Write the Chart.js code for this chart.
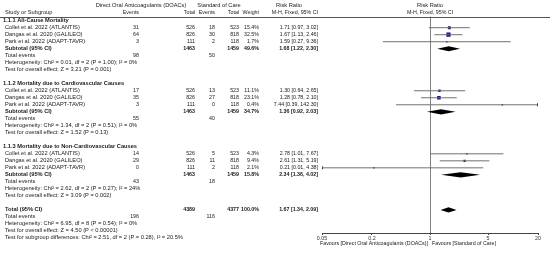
<!DOCTYPE html>
<html>
<head>
<meta charset="utf-8">
<script src="https://cdn.jsdelivr.net/npm/chart.js@4.4.1/dist/chart.umd.min.js"></script>
<style>
  html, body { margin: 0; padding: 0; background: #fff; }
  #wrap { width: 550px; height: 255px; }
</style>
</head>
<body>
<div id="wrap"><canvas id="forest" width="550" height="255"></canvas></div>
<script>
// ── Data ────────────────────────────────────────────────────────────────────
const sectionTitles = [
  '1.1.1 All-Cause Mortality',
  '1.1.2 Mortality due to Cardiovascular Causes',
  '1.1.3 Mortality due to Non-Cardiovascular Causes',
];
const studyNames = [
  'Collet et al. 2022 (ATLANTIS)',
  'Dangas et al. 2020 (GALILEO)',
  'Park et al. 2022 (ADAPT-TAVR)',
];
const doacEvents   = [[31, 64, 3], [17, 35, 3], [14, 29, 0]];
const doacTotals   = [526, 826, 111];
const socEvents    = [[18, 30, 2], [13, 27, 0], [5, 11, 2]];
const socTotals    = [523, 818, 118];
const studyWeights = [[15.4, 32.5, 1.7], [11.1, 23.1, 0.4], [4.3, 9.4, 2.1]];
const studyRR      = [[1.71, 1.67, 1.59], [1.30, 1.28, 7.44], [2.78, 2.61, 0.21]];
const studyLow     = [[0.97, 1.13, 0.27], [0.64, 0.78, 0.39], [1.01, 1.31, 0.01]];
const studyHigh    = [[3.02, 2.46, 9.36], [2.65, 2.10, 142.30], [7.67, 5.19, 4.38]];

const subtotalDoacTotals = [1463, 1463, 1463];
const subtotalSocTotals  = [1459, 1459, 1459];
const subtotalWeights    = [49.6, 34.7, 15.8];
const subtotalRR         = [1.68, 1.36, 2.34];
const subtotalLow        = [1.22, 0.92, 1.36];
const subtotalHigh       = [2.30, 2.03, 4.02];
const sectionDoacEvents  = [98, 55, 43];
const sectionSocEvents   = [50, 40, 18];
const sectionHeterogeneity = [
  'Heterogeneity: Chi² = 0.01, df = 2 (P = 1.00); I² = 0%',
  'Heterogeneity: Chi² = 1.34, df = 2 (P = 0.51); I² = 0%',
  'Heterogeneity: Chi² = 2.62, df = 2 (P = 0.27); I² = 24%',
];
const sectionOverallEffect = [
  'Test for overall effect: Z = 3.21 (P = 0.001)',
  'Test for overall effect: Z = 1.52 (P = 0.13)',
  'Test for overall effect: Z = 3.09 (P = 0.002)',
];

const totalTotals = [4389, 4377];
const totalEvents = [196, 116];
const totalWeight = 100.0;
const totalEffect = [1.67, 1.34, 2.09]; // RR, low, high
const totalNotes = [
  'Heterogeneity: Chi² = 6.95, df = 8 (P = 0.54); I² = 0%',
  'Test for overall effect: Z = 4.50 (P < 0.00001)',
  'Test for subgroup differences: Chi² = 2.51, df = 2 (P = 0.28), I² = 20.5%',
];

const xTicks = [0.05, 0.2, 1, 5, 20];
const favoursLeft  = 'Favours [Direct Oral Anticoagulants (DOACs)]';
const favoursRight = 'Favours [Standard of Care]';

// ── Styling ─────────────────────────────────────────────────────────────────
const FONT = '"Liberation Sans", Arial, sans-serif';
const FONT_SIZE = 5.7;
const NUM_SIZE = 5.3;   // the numeric columns sit tighter in the original
const TEXT = '#1a1a1a';
const CI_GRAY = '#707070';
const SQUARE_BLUE = '#14148f';
const X_MIN = 0.05, X_MAX = 20;
const COL = { name: 5, head: 3, doacEv: 139, doacTot: 195, socEv: 215, socTot: 239, weight: 259, rr: 318 };

const fmtRR = (rr, lo, hi) => `${rr.toFixed(2)} [${lo.toFixed(2)}, ${hi.toFixed(2)}]`;
const fmtW = (w) => `${w.toFixed(1)}%`;

// ── Row list: the plot and the table share one row index ────────────────────
const rows = [];
sectionTitles.forEach((_t, s) => {
  rows.push({ kind: 'section', s });
  studyNames.forEach((_n, i) => rows.push({ kind: 'study', s, i }));
  rows.push({ kind: 'subtotal', s });
  rows.push({ kind: 'events', s });
  rows.push({ kind: 'het', s });
  rows.push({ kind: 'effect', s });
  rows.push({ kind: 'blank' });
});
rows.push({ kind: 'total' });
rows.push({ kind: 'totalEvents' });
totalNotes.forEach((_n, k) => rows.push({ kind: 'totalNote', k }));

// Datasets built from the arrays above
const ciPoints = [];
const squarePoints = [];
const squareRadii = [];
const arrowRight = [];
const arrowLeft = [];
const diamonds = [];
rows.forEach((row, r) => {
  if (row.kind === 'study') {
    const { s, i } = row;
    const lo = studyLow[s][i], hi = studyHigh[s][i];
    ciPoints.push({ x: Math.max(lo, X_MIN), y: r }, { x: Math.min(hi, X_MAX), y: r }, { x: 1, y: null });
    squarePoints.push({ x: studyRR[s][i], y: r });
    // square area proportional to weight
    squareRadii.push(Math.max(1.1, 3.0 * Math.sqrt(studyWeights[s][i] / 32.5)));
    if (hi > X_MAX) arrowRight.push({ x: X_MAX, y: r });
    if (lo < X_MIN) arrowLeft.push({ x: X_MIN, y: r });
  } else if (row.kind === 'subtotal') {
    diamonds.push({ r, est: subtotalRR[row.s], lo: subtotalLow[row.s], hi: subtotalHigh[row.s] });
  } else if (row.kind === 'total') {
    diamonds.push({ r, est: totalEffect[0], lo: totalEffect[1], hi: totalEffect[2] });
  }
});

// ── Plugins ─────────────────────────────────────────────────────────────────
// Line of no effect (RR = 1) from the header rule down to the axis.
const nullLinePlugin = {
  id: 'nullLine',
  beforeDatasetsDraw(chart) {
    const { ctx, chartArea, scales: { x } } = chart;
    const px = Math.round(x.getPixelForValue(1)) + 0.5;
    ctx.save();
    ctx.strokeStyle = '#808080';
    ctx.lineWidth = 1;
    ctx.beginPath();
    ctx.moveTo(px, chartArea.top);
    ctx.lineTo(px, chartArea.bottom);
    ctx.stroke();
    ctx.restore();
  },
};

const diamondPlugin = {
  id: 'pooledDiamonds',
  afterDatasetsDraw(chart) {
    const { ctx, scales: { x, y } } = chart;
    ctx.save();
    ctx.fillStyle = '#000';
    diamonds.forEach((d) => {
      const py = y.getPixelForValue(d.r);
      const h = 2.6;
      ctx.beginPath();
      ctx.moveTo(x.getPixelForValue(d.lo), py);
      ctx.lineTo(x.getPixelForValue(d.est), py - h);
      ctx.lineTo(x.getPixelForValue(d.hi), py);
      ctx.lineTo(x.getPixelForValue(d.est), py + h);
      ctx.closePath();
      ctx.fill();
    });
    ctx.restore();
  },
};

const tablePlugin = {
  id: 'forestTable',
  afterDraw(chart) {
    const { ctx, chartArea, scales: { x, y } } = chart;
    ctx.save();
    ctx.fillStyle = TEXT;
    ctx.textBaseline = 'middle';
    const put = (text, px, py, align, bold, size = FONT_SIZE) => {
      ctx.font = `${bold ? 'bold ' : ''}${size}px ${FONT}`;
      ctx.textAlign = align;
      ctx.fillText(String(text), px, py);
    };
    const num = (text, px, py, bold) => put(text, px, py, 'right', bold, NUM_SIZE);

    // header
    const h1 = chartArea.top - 11.5, h2 = chartArea.top - 4.2;
    const mid = x.getPixelForValue(1);
    put('Direct Oral Anticoagulants (DOACs)', 141, h1, 'center');
    put('Standard of Care', 219, h1, 'center');
    put('Risk Ratio', 289, h1, 'center');
    put('Risk Ratio', mid, h1, 'center');
    put('Study or Subgroup', COL.name, h2, 'left');
    num('Events', COL.doacEv, h2);
    num('Total', COL.doacTot, h2);
    num('Events', COL.socEv, h2);
    num('Total', COL.socTot, h2);
    num('Weight', COL.weight, h2);
    num('M-H, Fixed, 95% CI', COL.rr, h2);
    put('M-H, Fixed, 95% CI', mid, h2, 'center', false, NUM_SIZE);

    ctx.strokeStyle = '#555';
    ctx.lineWidth = 1;
    ctx.beginPath();
    ctx.moveTo(0, Math.round(chartArea.top) + 0.5);
    ctx.lineTo(chart.width, Math.round(chartArea.top) + 0.5);
    ctx.stroke();

    rows.forEach((row, r) => {
      const py = y.getPixelForValue(r);
      const s = row.s;
      switch (row.kind) {
        case 'section':
          put(sectionTitles[s], COL.head, py, 'left', true);
          break;
        case 'study': {
          const i = row.i;
          put(studyNames[i], COL.name, py, 'left');
          num(doacEvents[s][i], COL.doacEv, py);
          num(doacTotals[i], COL.doacTot, py);
          num(socEvents[s][i], COL.socEv, py);
          num(socTotals[i], COL.socTot, py);
          num(fmtW(studyWeights[s][i]), COL.weight, py);
          num(fmtRR(studyRR[s][i], studyLow[s][i], studyHigh[s][i]), COL.rr, py);
          break;
        }
        case 'subtotal':
          put('Subtotal (95% CI)', COL.name, py, 'left', true);
          num(subtotalDoacTotals[s], COL.doacTot, py, true);
          num(subtotalSocTotals[s], COL.socTot, py, true);
          num(fmtW(subtotalWeights[s]), COL.weight, py, true);
          num(fmtRR(subtotalRR[s], subtotalLow[s], subtotalHigh[s]), COL.rr, py, true);
          break;
        case 'events':
          put('Total events', COL.name, py, 'left');
          num(sectionDoacEvents[s], COL.doacEv, py);
          num(sectionSocEvents[s], COL.socEv, py);
          break;
        case 'het':
          put(sectionHeterogeneity[s], COL.name, py, 'left');
          break;
        case 'effect':
          put(sectionOverallEffect[s], COL.name, py, 'left');
          break;
        case 'total':
          put('Total (95% CI)', COL.name, py, 'left', true);
          num(totalTotals[0], COL.doacTot, py, true);
          num(totalTotals[1], COL.socTot, py, true);
          num(fmtW(totalWeight), COL.weight, py, true);
          num(fmtRR(totalEffect[0], totalEffect[1], totalEffect[2]), COL.rr, py, true);
          break;
        case 'totalEvents':
          put('Total events', COL.name, py, 'left');
          num(totalEvents[0], COL.doacEv, py);
          num(totalEvents[1], COL.socEv, py);
          break;
        case 'totalNote':
          put(totalNotes[row.k], COL.name, py, 'left');
          break;
      }
    });

    // favours labels under the axis
    const fy = chartArea.bottom + 11;
    put(favoursLeft, mid - 2, fy, 'right', false, NUM_SIZE);
    put(favoursRight, mid + 2, fy, 'left', false, NUM_SIZE);
    ctx.restore();
  },
};

// ── Chart ───────────────────────────────────────────────────────────────────
new Chart(document.getElementById('forest'), {
  type: 'scatter',
  plugins: [nullLinePlugin, diamondPlugin, tablePlugin],
  data: {
    datasets: [
      {
        type: 'line',
        data: ciPoints,
        borderColor: CI_GRAY,
        borderWidth: 1,
        pointRadius: 0,
        spanGaps: false,
      },
      {
        data: squarePoints,
        pointStyle: 'rect',
        pointRadius: squareRadii,
        backgroundColor: SQUARE_BLUE,
        borderColor: SQUARE_BLUE,
        borderWidth: 0,
      },
      {
        data: arrowRight,
        pointStyle: 'triangle',
        rotation: 90,
        pointRadius: 2,
        backgroundColor: '#111',
        borderWidth: 0,
      },
      {
        data: arrowLeft,
        pointStyle: 'triangle',
        rotation: -90,
        pointRadius: 2,
        backgroundColor: '#111',
        borderWidth: 0,
      },
    ],
  },
  options: {
    responsive: false,
    animation: false,
    devicePixelRatio: 1,
    layout: { padding: { left: 322, right: 12, top: 16.5, bottom: 0 } },
    plugins: { legend: { display: false }, tooltip: { enabled: false } },
    scales: {
      x: {
        type: 'logarithmic',
        min: X_MIN,
        max: X_MAX,
        afterBuildTicks: (scale) => { scale.ticks = xTicks.map((v) => ({ value: v })); },
        afterFit: (scale) => { scale.height = 22; },
        grid: {
          color: 'rgba(0,0,0,0)',
          tickColor: '#444',
          tickLength: 2,
          drawOnChartArea: false,
        },
        border: { display: true, color: '#444', width: 1 },
        ticks: {
          color: '#333',
          padding: 0,
          maxRotation: 0,
          autoSkip: false,
          font: { family: FONT, size: NUM_SIZE },
          callback: (v) => String(v),
        },
      },
      y: {
        type: 'linear',
        display: false,
        reverse: true,
        min: -0.6,
        max: 30.3,
      },
    },
  },
});
</script>
</body>
</html>
